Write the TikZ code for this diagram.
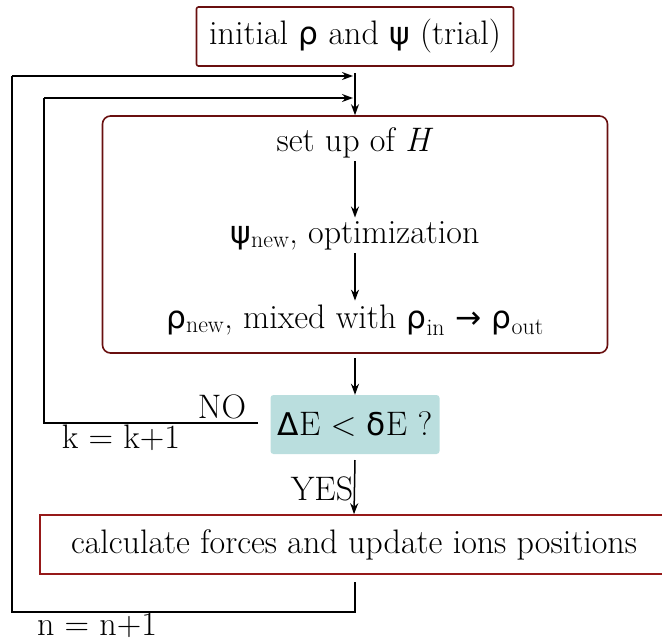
\documentclass[tikz,border=0pt]{standalone}
\usepackage{fontspec}
\newfontfamily\gk{DejaVu Sans}[Scale=0.92]
\usetikzlibrary{arrows.meta}
\definecolor{boxred}{RGB}{105,15,15}
\definecolor{calcred}{RGB}{150,25,25}
\definecolor{testfill}{RGB}{186,222,222}
\tikzset{
  box/.style={draw=boxred, line width=1.6pt, rounded corners=2pt, inner sep=0pt},
  bigbox/.style={draw=boxred, line width=1.6pt, rounded corners=8pt, inner sep=0pt},
  calcbox/.style={draw=calcred, line width=1.6pt, inner sep=0pt},
  testbox/.style={fill=testfill, rounded corners=3pt, inner sep=0pt},
  txt/.style={inner sep=0pt},
  flow/.style={line width=1.5pt, -{Stealth[length=11pt,width=8pt]}},
  wire/.style={line width=1.5pt}
}
\newcommand{\sbs}[1]{\textsubscript{#1}}
\begin{document}
\begin{tikzpicture}[x=1pt,y=-1pt, font=\fontsize{34}{41}\selectfont]
\useasboundingbox (0,0) rectangle (662,643);
% nodes
\node[box, minimum width=317pt, minimum height=59pt] (init) at (355,36.5) {initial {\gk ρ} and {\gk ψ} (trial)};
\node[bigbox, minimum width=505pt, minimum height=237pt] (loop) at (355,234.5) {};
\node[txt] (setup) at (355,143) {set up of \textit{H}};
\node[txt] (opt) at (355,236) {{\gk ψ}\sbs{new}, optimization};
\node[txt] (mix) at (355,320) {{\gk ρ}\sbs{new}, mixed with {\gk ρ}\sbs{in} {\gk →} {\gk ρ}\sbs{out}};
\node[testbox, minimum width=169pt, minimum height=59pt] (test) at (355,424.5) {{\gk Δ}E < {\gk δ}E ?};
\node[calcbox, minimum width=628pt, minimum height=59pt] (calc) at (354,544.5) {calculate forces and update ions positions};
\node[txt] (no) at (222,407) {NO};
\node[txt] (k) at (121,438) {k = k+1};
\node[txt] (yes) at (322,489) {YES};
\node[txt] (n) at (97,625) {n = n+1};
% coordinates
\coordinate (top) at (355,73);
\coordinate (o1) at (355,582);
\coordinate (o2) at (355,612);
\coordinate (o3) at (12,612);
\coordinate (o4) at (12,76);
\coordinate (o5) at (353,76);
\coordinate (i1) at (258,423);
\coordinate (i2) at (44,423);
\coordinate (i3) at (44,98);
\coordinate (i4) at (353,98);
\coordinate (t1) at (355,358);
\coordinate (t2) at (355,460);
% connectors
\draw[flow] (top) -- (loop.north);
\draw[flow] ([yshift=-3pt]setup.south) -- ([yshift=4pt]opt.north);
\draw[flow] ([yshift=-3pt]opt.south) -- ([yshift=4pt]mix.north);
\draw[flow] (t1) -- (test.north);
\draw[flow] (t2) -- (calc.north);
\draw[wire] (i1) -- (i2) -- (i3);
\draw[flow] (i3) -- (i4);
\draw[wire] (o1) -- (o2) -- (o3) -- (o4);
\draw[flow] (o4) -- (o5);
\end{tikzpicture}
\end{document}
